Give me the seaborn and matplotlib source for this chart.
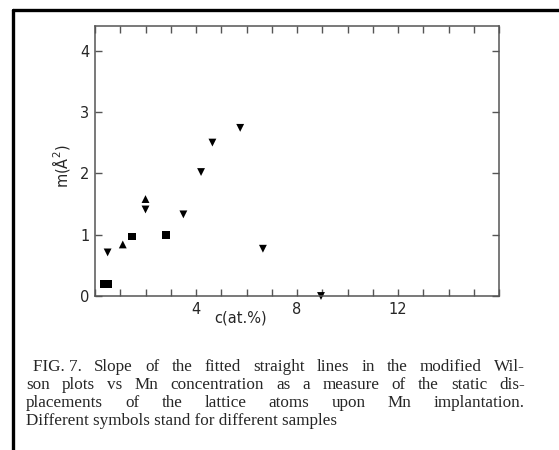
import matplotlib
matplotlib.use("Agg")
import matplotlib.pyplot as plt
import seaborn as sns
import pandas as pd
from matplotlib.lines import Line2D

# Values (c in at.%, m in A^2)
square_c = [0.35, 0.5, 1.45, 2.8]
square_m = [0.2, 0.2, 0.97, 0.99]
up_c = [1.1, 2.0]
up_m = [0.84, 1.58]
down_c = [0.5, 2.0, 3.5, 4.2, 4.65, 5.75, 6.65, 8.95]
down_m = [0.71, 1.41, 1.33, 2.02, 2.5, 2.74, 0.77, 0.0]

x_ticks = [4, 8, 12]
y_ticks = [0, 1, 2, 3, 4]

caption_lines = [
    "FIG. 7.  Slope of the fitted straight lines in the modified Wil-",
    "son plots vs Mn concentration as a measure of the static dis-",
    "placements of the lattice atoms upon Mn implantation.",
    "Different symbols stand for different samples",
]

df = pd.concat([
    pd.DataFrame({"c": square_c, "m": square_m, "sample": "A"}),
    pd.DataFrame({"c": up_c, "m": up_m, "sample": "B"}),
    pd.DataFrame({"c": down_c, "m": down_m, "sample": "C"}),
], ignore_index=True)

sns.set_style("ticks")
plt.rcParams["font.family"] = ["DejaVu Sans"]

fig = plt.figure(figsize=(5.59, 4.5), dpi=100)
ax = fig.add_axes([95 / 559, 1 - 296 / 450, 404 / 559, 270 / 450])

sns.scatterplot(data=df, x="c", y="m", style="sample",
                markers={"A": "s", "B": "^", "C": "v"},
                color="black", edgecolor="black", s=32, linewidth=0,
                legend=False, clip_on=False, ax=ax)

ax.set_xlim(0, 16)
ax.set_ylim(0, 4.4)
ax.set_xticks(range(0, 17))
ax.set_xticklabels([str(t) if t in x_ticks else "" for t in range(0, 17)])
ax.set_yticks(y_ticks)
ax.set_yticklabels([str(t) for t in y_ticks])
ax.tick_params(direction="in", length=5, width=1, color="#555555",
               labelsize=10.5, top=True, right=True, pad=4)
for sp in ax.spines.values():
    sp.set_color("#555555")
    sp.set_linewidth(1.1)

ax.set_xlabel("c(at.%)", fontsize=10.5)
ax.xaxis.set_label_coords(0.36, -0.055)
ax.set_ylabel("m(Å$^2$)", fontsize=10.5)
ax.yaxis.set_label_coords(-0.058, 0.48)

# frame lines from the scanned page
fig.add_artist(Line2D([13 / 559, 1.0], [1 - 10 / 450, 1 - 10 / 450],
                      color="black", linewidth=2.4, transform=fig.transFigure))
fig.add_artist(Line2D([13 / 559, 13 / 559], [0, 1 - 10 / 450],
                      color="black", linewidth=2.4, transform=fig.transFigure))

# justified caption
cap_size = 12.3
fig.canvas.draw()
renderer = fig.canvas.get_renderer()
left_px, right_px = 26, 525
line_y = [367, 385, 403, 421]
for i, line in enumerate(caption_lines):
    y = 1 - line_y[i] / 450
    start = 33 if i == 0 else left_px
    words = line.split()
    if i == 0:
        words = ["FIG. 7."] + line.split("FIG. 7.")[1].split()
    if i == len(caption_lines) - 1:
        fig.text(start / 559, y, line, family="Liberation Serif", fontsize=cap_size,
                 va="center", ha="left")
        continue
    widths = []
    for w in words:
        t = fig.text(0, 0, w, family="Liberation Serif", fontsize=cap_size)
        widths.append(t.get_window_extent(renderer).width)
        t.remove()
    gap = (right_px - start - sum(widths)) / (len(words) - 1)
    x = start
    for w, wd in zip(words, widths):
        fig.text(x / 559, y, w, family="Liberation Serif", fontsize=cap_size,
                 va="center", ha="left")
        x += wd + gap

fig.savefig("out.png", dpi=100)
